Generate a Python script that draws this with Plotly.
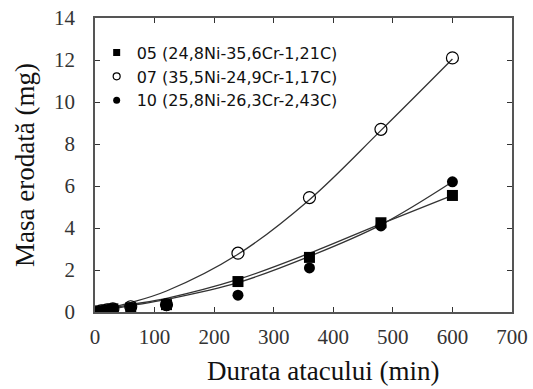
import plotly.graph_objects as go

# Data
time_min = [0, 10, 20, 30, 60, 120, 240, 360, 480, 600]
mass_05 = [0.0, 0.05, 0.1, 0.15, 0.2, 0.35, 1.45, 2.6, 4.25, 5.55]
mass_07 = [0.0, 0.05, 0.1, 0.15, 0.25, 0.35, 2.8, 5.45, 8.7, 12.1]
mass_10 = [0.0, 0.05, 0.1, 0.15, 0.2, 0.3, 0.8, 2.1, 4.1, 6.2]

# Trend curves as drawn in the reference
trend_time = [0, 60, 120, 240, 360, 480, 600]
trend_05 = [0.05, 0.35, 0.65, 1.55, 2.8, 4.2, 5.55]
trend_07 = [0.05, 0.45, 1.0, 2.75, 5.35, 8.65, 12.05]
trend_10 = [0.0, 0.3, 0.6, 1.4, 2.65, 4.15, 6.2]

names = ["05 (24,8Ni-35,6Cr-1,21C)", "07 (35,5Ni-24,9Cr-1,17C)", "10 (25,8Ni-26,3Cr-2,43C)"]
x_ticks = [0, 100, 200, 300, 400, 500, 600, 700]
y_ticks = [0, 2, 4, 6, 8, 10, 12, 14]

serif = "Liberation Serif"
sans = "DejaVu Sans"

fig = go.Figure()

for tr in (trend_05, trend_07, trend_10):
    fig.add_trace(go.Scatter(x=trend_time, y=tr, mode="lines", line_shape="spline",
                             line=dict(color="#333333", width=1.3),
                             showlegend=False, hoverinfo="skip"))

sq = dict(symbol="square", color="black")
oc = dict(symbol="circle-open", color="black", line=dict(width=1.2, color="black"))
fc = dict(symbol="circle", color="black")

fig.add_trace(go.Scatter(x=time_min, y=mass_07, mode="markers", name=names[1],
                         marker=dict(size=12, **oc), showlegend=False))
fig.add_trace(go.Scatter(x=time_min, y=mass_10, mode="markers", name=names[2],
                         marker=dict(size=11, **fc), showlegend=False))
fig.add_trace(go.Scatter(x=time_min, y=mass_05, mode="markers", name=names[0],
                         marker=dict(size=11, **sq), showlegend=False))

# legend entries with small symbols, as in the reference
for nm, mk, grp in ((names[0], sq, "a"), (names[1], oc, "b"), (names[2], fc, "c")):
    fig.add_trace(go.Scatter(x=[None], y=[None], mode="markers", name=nm,
                             legendgroup=grp, marker=dict(size=7, **mk)))

axis_common = dict(showgrid=False, zeroline=False, showline=True, linecolor="#555555",
                   linewidth=1.5, mirror="ticks", ticks="inside", ticklen=5,
                   tickcolor="#333333", tickwidth=1.2, automargin=False,
                   ticklabeloverflow="allow",
                   tickfont=dict(family=serif, size=21, color="#333333"))

fig.update_xaxes(range=[0, 700], tickvals=x_ticks, ticklabelstandoff=5, **axis_common)
fig.update_yaxes(range=[0, 14], tickvals=y_ticks, ticklabelstandoff=14,
                 title=dict(text="Masa erodată (mg)",
                            font=dict(family=serif, size=27, color="#111111"), standoff=12),
                 **axis_common)

fig.add_annotation(text="Durata atacului (min)", xref="paper", yref="paper",
                   x=0.547, y=-0.2, xanchor="center", yanchor="middle", showarrow=False,
                   font=dict(family=serif, size=27, color="#111111"))

fig.update_layout(
    width=533, height=389,
    margin=dict(l=95, r=21, t=18, b=77),
    paper_bgcolor="white", plot_bgcolor="white",
    showlegend=True,
    legend=dict(x=0.004, y=0.94, xanchor="left", yanchor="top",
                bgcolor="rgba(0,0,0,0)", itemwidth=30, tracegroupgap=0,
                font=dict(family=sans, size=16, color="#111111")),
)

fig.write_html("out.html", config={"displayModeBar": False},
               post_script="document.body.style.margin='0';document.body.style.overflow='hidden';")
